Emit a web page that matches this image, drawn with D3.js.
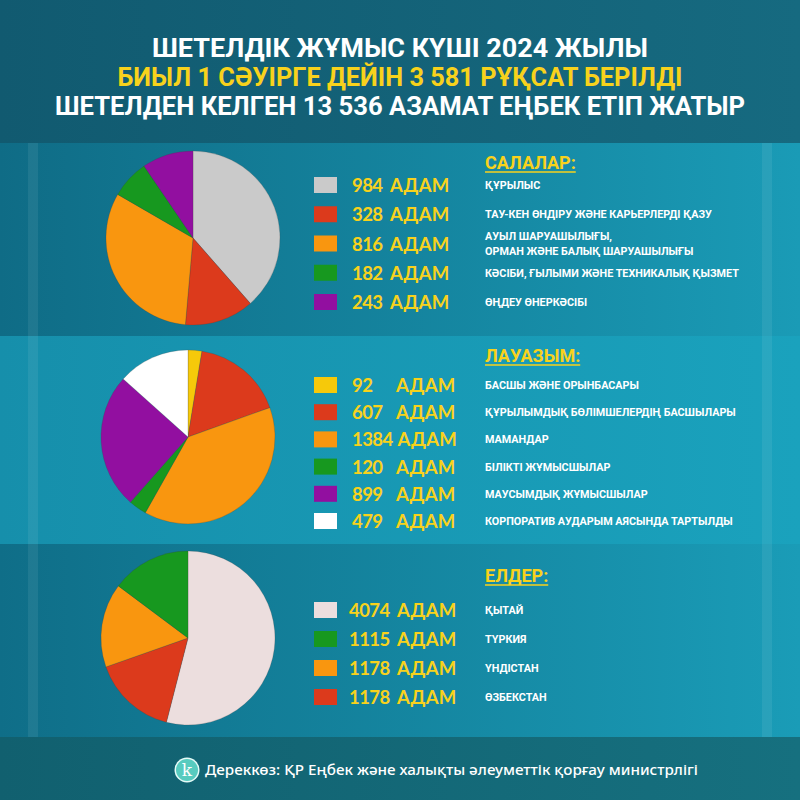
<!DOCTYPE html>
<html>
<head>
<meta charset="utf-8">
<script src="https://cdn.jsdelivr.net/npm/d3@7"></script>
<style>
  html, body { margin: 0; padding: 0; background: #135f75; }
  svg { display: block; }
</style>
</head>
<body>
<svg id="chart" width="800" height="800"></svg>
<script>
// ---------- DATA ----------
const titleLines = [
  "ШЕТЕЛДІК ЖҰМЫС КҮШІ 2024 ЖЫЛЫ",
  "БИЫЛ 1 СӘУІРГЕ ДЕЙІН 3 581 РҰҚСАТ БЕРІЛДІ",
  "ШЕТЕЛДЕН КЕЛГЕН 13 536 АЗАМАТ ЕҢБЕК ЕТІП ЖАТЫР"
];
const unitLabel = "АДАМ";

const sectorTitle = "САЛАЛАР:";
const sectorLabels = [
  ["ҚҰРЫЛЫС"],
  ["ТАУ-КЕН ӨНДІРУ ЖӘНЕ КАРЬЕРЛЕРДІ ҚАЗУ"],
  ["АУЫЛ ШАРУАШЫЛЫҒЫ,", "ОРМАН ЖӘНЕ БАЛЫҚ ШАРУАШЫЛЫҒЫ"],
  ["КӘСІБИ, ҒЫЛЫМИ ЖӘНЕ ТЕХНИКАЛЫҚ ҚЫЗМЕТ"],
  ["ӨҢДЕУ ӨНЕРКӘСІБІ"]
];
const sectorValues = [984, 328, 816, 182, 243];

const positionTitle = "ЛАУАЗЫМ:";
const positionLabels = [
  ["БАСШЫ ЖӘНЕ ОРЫНБАСАРЫ"],
  ["ҚҰРЫЛЫМДЫҚ БӨЛІМШЕЛЕРДІҢ БАСШЫЛАРЫ"],
  ["МАМАНДАР"],
  ["БІЛІКТІ ЖҰМЫСШЫЛАР"],
  ["МАУСЫМДЫҚ ЖҰМЫСШЫЛАР"],
  ["КОРПОРАТИВ АУДАРЫМ АЯСЫНДА ТАРТЫЛДЫ"]
];
const positionValues = [92, 607, 1384, 120, 899, 479];

const countryTitle = "ЕЛДЕР:";
const countryLabels = [["ҚЫТАЙ"], ["ТҮРКИЯ"], ["ҮНДІСТАН"], ["ӨЗБЕКСТАН"]];
const countryValues = [4074, 1115, 1178, 1178];
const countryPieOrder = [0, 3, 2, 1]; // clockwise order in the pie

const sourceText = "Дереккөз: ҚР Еңбек және халықты әлеуметтік қорғау министрлігі";

// ---------- STYLE ----------
const sectorColors = ["#cacaca", "#dc3a1c", "#f9960f", "#17981f", "#920fa0"];
const positionColors = ["#f6c90a", "#dc3a1c", "#f9960f", "#17981f", "#920fa0", "#ffffff"];
const countryColors = ["#ecdede", "#17981f", "#f9960f", "#dc3a1c"];
const YELLOW = "#f8d21c";

const svg = d3.select("#chart");
const W = 800, H = 800;
const defs = svg.append("defs");

function hGrad(id, c0, c1) {
  const g = defs.append("linearGradient").attr("id", id).attr("x1", "0%").attr("x2", "100%");
  g.append("stop").attr("offset", "0%").attr("stop-color", c0);
  g.append("stop").attr("offset", "100%").attr("stop-color", c1);
}
hGrad("gHead", "#115a70", "#166a80");
hGrad("gSec1", "#0f6c86", "#1a9bb6");
hGrad("gSec2", "#168fab", "#1aa2bd");
hGrad("gSec3", "#0f6e88", "#1a9cb7");
hGrad("gFoot", "#11606f", "#16707f");

// background bands
const bands = [
  { y0: 0, y1: 143, fill: "url(#gHead)" },
  { y0: 143, y1: 336, fill: "url(#gSec1)" },
  { y0: 336, y1: 544, fill: "url(#gSec2)" },
  { y0: 544, y1: 737, fill: "url(#gSec3)" },
  { y0: 737, y1: 800, fill: "url(#gFoot)" }
];
svg.selectAll("rect.band").data(bands).enter().append("rect")
  .attr("class", "band")
  .attr("x", 0).attr("width", W)
  .attr("y", d => d.y0).attr("height", d => d.y1 - d.y0)
  .attr("fill", d => d.fill);

// faint vertical light strips
[28, 762].forEach(x => {
  svg.append("rect").attr("x", x).attr("y", 143).attr("width", 10).attr("height", 594)
    .attr("fill", "#ffffff").attr("opacity", 0.07);
});

// ---------- TITLES ----------
const titleFills = ["#ffffff", YELLOW, "#ffffff"];
const titleBase = [57, 86, 115];
const titleWidths = [496, 565, 690];
svg.selectAll("text.title").data(titleLines).enter().append("text")
  .attr("class", "title")
  .attr("x", W / 2).attr("y", (d, i) => titleBase[i])
  .attr("text-anchor", "middle")
  .attr("font-family", "Roboto, 'Open Sans', sans-serif")
  .attr("font-weight", 700)
  .attr("font-size", 25)
  .attr("textLength", (d, i) => titleWidths[i])
  .attr("lengthAdjust", "spacingAndGlyphs")
  .attr("fill", (d, i) => titleFills[i])
  .text(d => d);

// ---------- SECTIONS ----------
const sections = [
  { title: sectorTitle, labels: sectorLabels, values: sectorValues, colors: sectorColors,
    order: null, cx: 193, cy: 238, titleY: 169, rowStart: 185, rowEnd: 302, unitX: 390, valX: 352 },
  { title: positionTitle, labels: positionLabels, values: positionValues, colors: positionColors,
    order: null, cx: 188, cy: 437, titleY: 362, rowStart: 385, rowEnd: 521, unitX: 396, valX: 352 },
  { title: countryTitle, labels: countryLabels, values: countryValues, colors: countryColors,
    order: countryPieOrder, cx: 188, cy: 638, titleY: 582, rowStart: 610, rowEnd: 697, unitX: 397, valX: 349 }
];

const R = 87;
const arc = d3.arc().innerRadius(0).outerRadius(R);

sections.forEach(sec => {
  const items = sec.values.map((v, i) => ({ v, i, label: sec.labels[i], color: sec.colors[i] }));
  const pieData = sec.order ? sec.order.map(k => items[k]) : items;
  const pie = d3.pie().sort(null).value(d => d.v);

  const g = svg.append("g").attr("transform", `translate(${sec.cx},${sec.cy})`);
  g.selectAll("path").data(pie(pieData)).enter().append("path")
    .attr("d", arc)
    .attr("fill", d => d.data.color)
    .attr("stroke", "rgba(60,60,60,0.35)")
    .attr("stroke-width", 0.6);

  // header
  const head = svg.append("text")
    .attr("x", 485).attr("y", sec.titleY)
    .attr("font-family", "Roboto, sans-serif")
    .attr("font-weight", 700)
    .attr("font-size", 18)
    .attr("fill", YELLOW)
    .text(sec.title);
  const hw = head.node().getComputedTextLength();
  svg.append("line")
    .attr("x1", 485).attr("x2", 485 + hw)
    .attr("y1", sec.titleY + 3).attr("y2", sec.titleY + 3)
    .attr("stroke", YELLOW).attr("stroke-width", 1.5);

  // legend rows
  const yRow = d3.scaleLinear().domain([0, items.length - 1]).range([sec.rowStart, sec.rowEnd]);
  const rows = svg.selectAll(null).data(items).enter().append("g")
    .attr("transform", d => `translate(0,${yRow(d.i)})`);

  rows.append("rect")
    .attr("x", 314).attr("y", -8).attr("width", 23).attr("height", 16)
    .attr("fill", d => d.color);

  const num = rows.append("text")
    .attr("x", sec.valX).attr("y", 7)
    .attr("font-family", "Lato, 'Open Sans', sans-serif")
    .attr("font-weight", 700)
    .attr("font-size", 18.5)
    .attr("letter-spacing", -0.6)
    .attr("fill", YELLOW)
    .text(d => d.v);

  rows.each(function () {
    const row = d3.select(this);
    const nEnd = sec.valX + row.select("text").node().getComputedTextLength();
    row.append("text")
      .attr("x", Math.max(sec.unitX, nEnd + 5)).attr("y", 7)
      .attr("font-family", "Lato, 'Open Sans', sans-serif")
      .attr("font-weight", 700)
      .attr("font-size", 18.5)
      .attr("letter-spacing", 0.3)
      .attr("fill", YELLOW)
      .text(unitLabel);
  });

  const lbl = rows.append("text")
    .attr("font-family", "Roboto, sans-serif")
    .attr("font-weight", 700)
    .attr("font-size", 10.8)
    .attr("fill", "#ffffff");
  lbl.selectAll("tspan").data(d => d.label.map((t, j) => ({ t, j, n: d.label.length })))
    .enter().append("tspan")
    .attr("x", 485)
    .attr("y", d => 4 + (d.j - (d.n - 1) / 2) * 15)
    .text(d => d.t);
});

// ---------- FOOTER ----------
const logo = svg.append("g").attr("transform", "translate(187,770)");
logo.append("circle").attr("r", 12.5).attr("fill", "#e6fbf8");
logo.append("circle").attr("r", 11).attr("fill", "#57cbbf");
logo.append("text").attr("y", 6).attr("text-anchor", "middle")
  .attr("font-family", "'DejaVu Serif', serif").attr("font-size", 17)
  .attr("fill", "#ffffff").text("k");

svg.append("text")
  .attr("x", 205).attr("y", 775)
  .attr("font-family", "'Noto Sans', sans-serif")
  .attr("font-weight", 500)
  .attr("font-size", 14)
  .attr("textLength", 493)
  .attr("lengthAdjust", "spacingAndGlyphs")
  .attr("fill", "#ffffff")
  .text(sourceText);
</script>
</body>
</html>
